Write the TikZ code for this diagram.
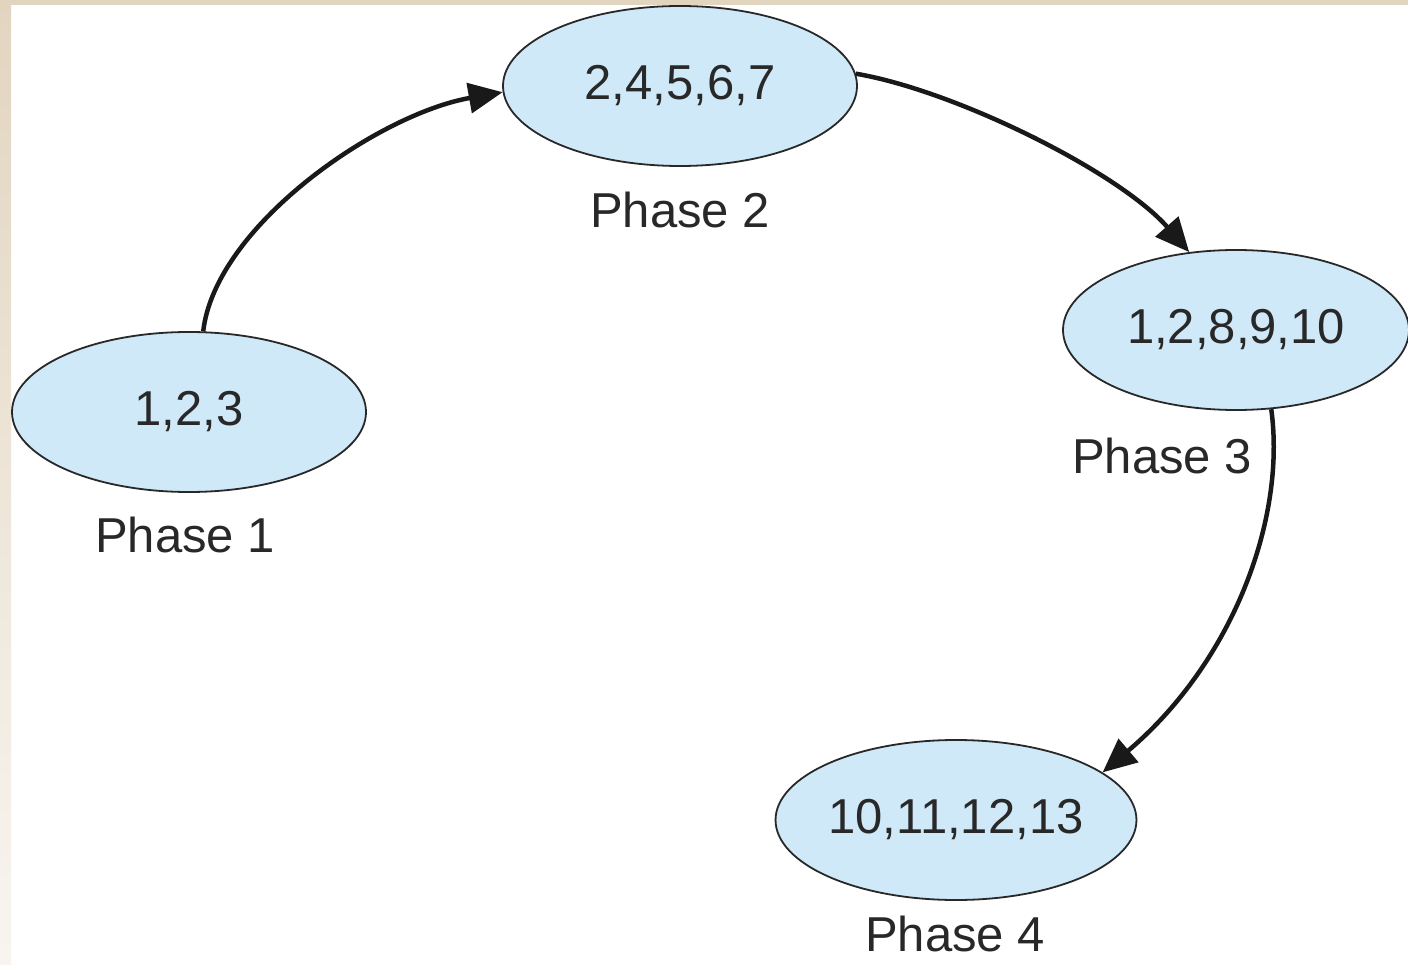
\documentclass[tikz,border=0pt]{standalone}
\usepackage{fontspec}
\setmainfont{Liberation Sans}
\usetikzlibrary{shapes.geometric,arrows.meta}
\definecolor{phasefill}{RGB}{208,233,248}
\definecolor{phaseline}{RGB}{40,40,40}
\definecolor{txt}{RGB}{40,40,40}
\definecolor{beigetop}{RGB}{226,213,192}
\definecolor{beigebot}{RGB}{248,245,240}
\tikzset{
  phase/.style={ellipse, draw=phaseline, line width=1.8pt, fill=phasefill,
    minimum width=354pt, minimum height=160pt, inner sep=0pt,
    text=txt, font=\fontsize{49}{55}\selectfont},
  plabel/.style={text=txt, font=\fontsize{49}{55}\selectfont, inner sep=0pt,
    text depth=0pt, anchor=base},
  conn/.style={line width=4.5pt, draw=black!90, -{Triangle[length=34pt,width=30pt]}}
}
\begin{document}
\begin{tikzpicture}[x=1pt,y=-1pt]
\useasboundingbox (0,0) rectangle (1408,965);
\fill[white] (0,0) rectangle (1408,965);
\shade[top color=beigetop, bottom color=beigebot] (0,0) rectangle (11,965);
\fill[beigetop] (0,0) rectangle (1408,5);

\node[phase] (p1) at (189,412) {1,2,3};
\node[phase] (p2) at (680,86) {2,4,5,6,7};
\node[phase, minimum width=346pt] (p3) at (1236,330) {1,2,8,9,10};
\node[phase] (p4) at (956,820) {10,11,12,13};

\node[plabel] (l1) at (185,552) {Phase 1};
\node[plabel] (l2) at (680,228) {Phase 2};
\node[plabel] (l3) at (1162,473) {Phase 3};
\node[plabel] (l4) at (955,951) {Phase 4};

\draw[conn] (p1.80) .. controls +(12,-105) and +(-125,22) .. (p2.182);
\draw[conn] (p2.4) .. controls +(100,17) and +(-70,-80) .. (p3.121);
\draw[conn] (p3.-66) .. controls +(15,110) and +(130,-110) .. (p4.18);
\end{tikzpicture}
\end{document}
